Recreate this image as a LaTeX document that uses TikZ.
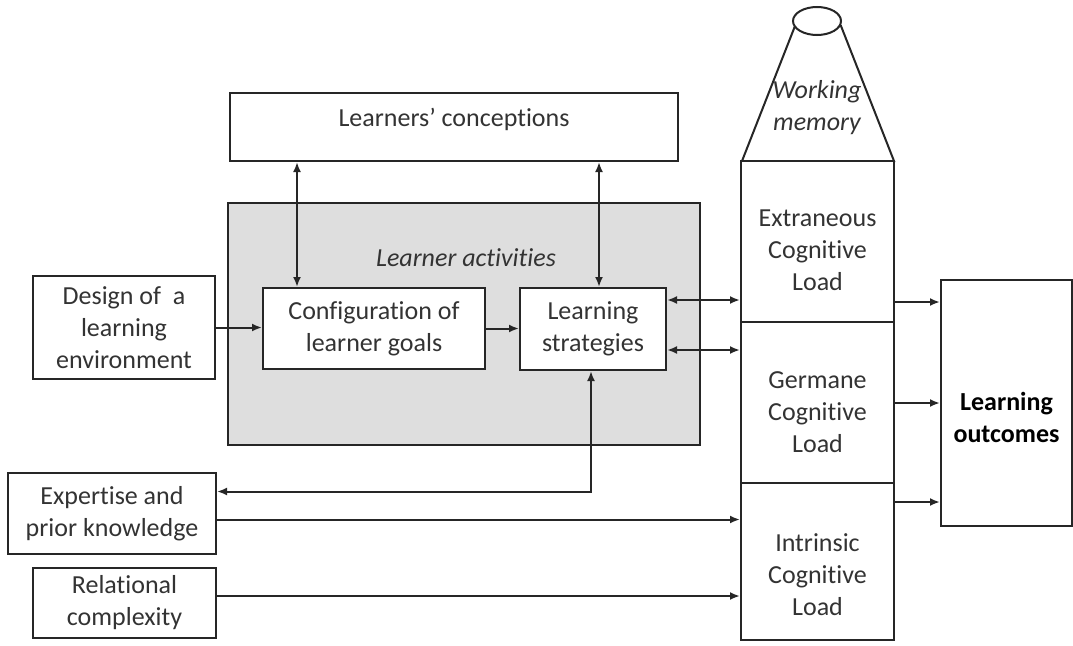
\documentclass[tikz,border=0pt]{standalone}
\usepackage{fontspec}
\setmainfont[Ligatures={NoCommon}]{Carlito}
\usepackage{xcolor}
\usepackage{tikz}
\usetikzlibrary{arrows.meta}
\definecolor{inkgray}{HTML}{333333}
\tikzstyle{every picture}=[x=1pt,y=-1pt,line width=2pt,draw=black!85,>={Latex[length=10pt,width=8pt]}]
\tikzstyle{box}=[rectangle,draw=black!85,fill=white,line width=2pt,text=inkgray,align=center,inner sep=2pt,font=\fontsize{26}{32}\selectfont]
\tikzstyle{area}=[rectangle,draw=black!85,fill=black!13,line width=2pt]
\tikzstyle{load}=[box,minimum width=153pt]
\tikzstyle{boxtext}=[text=inkgray,align=center,font=\fontsize{26}{32}\selectfont]

\begin{document}
\begin{tikzpicture}
        \useasboundingbox (0,0) rectangle (1073,645);

        \node at (464,324) [area,minimum width=472pt,minimum height=242pt] (act) {};
        \node at (466,258) [boxtext,font=\fontsize{26}{32}\selectfont\itshape] (actlabel) {Learner activities};
        \node at (454,127) [box,minimum width=448pt,minimum height=68pt,
          label={[boxtext,anchor=north,yshift=-12pt]north:Learners' conceptions}] (concept) {};
        \node at (374,328.5) [box,minimum width=222pt,minimum height=81pt] (cfg) {Configuration of\\learner goals};
        \node at (593,329) [box,minimum width=146pt,minimum height=82pt] (strat) {Learning\\strategies};
        \node at (124,327.5) [box,minimum width=182pt,minimum height=103pt] (design) {Design of\ \ a\\learning\\environment};
        \node at (112,513.5) [box,minimum width=208pt,minimum height=81pt] (expert) {Expertise and\\prior knowledge};
        \node at (124.5,603) [box,minimum width=183pt,minimum height=70pt] (relat) {Relational\\complexity};

        % working memory funnel
        \draw [fill=white] (742,161) -- (795,26) -- (841,26) -- (894,161) -- cycle;
        \draw [fill=white] (817,21) ellipse [x radius=24, y radius=14];
        \node at (817,108) [boxtext,font=\fontsize{26}{32}\selectfont\itshape] (wm) {Working\\memory};

        \node at (817.5,241.5) [load,minimum height=161pt,
          label={[boxtext,yshift=-9pt]center:Extraneous\\Cognitive\\Load}] (extr) {};
        \node at (817.5,402.5) [load,minimum height=161pt,
          label={[boxtext,yshift=-10pt]center:Germane\\Cognitive\\Load}] (germ) {};
        \node at (817.5,561.5) [load,minimum height=157pt,
          label={[boxtext,yshift=-13pt]center:Intrinsic\\Cognitive\\Load}] (intr) {};
        \node at (1006.5,403) [box,minimum width=131pt,minimum height=246pt,
          label={[boxtext,text=black,font=\fontsize{26}{32}\selectfont\bfseries,yshift=-14pt]center:Learning\\outcomes}] (outcome) {};

        \draw [<->] ([xshift=-77pt]cfg.north) -- ([xshift=-77pt]cfg.north |- concept.south);
        \draw [<->] ([xshift=6pt]strat.north) -- ([xshift=6pt]strat.north |- concept.south);
        \draw [->] (design.east) -- (design.east -| cfg.west);
        \draw [->] (cfg.east) -- (cfg.east -| strat.west);
        \draw [<->] ([yshift=29pt]strat.east) -- ([yshift=29pt]strat.east -| extr.west);
        \draw [<->] ([yshift=-21pt]strat.east) -- ([yshift=-21pt]strat.east -| germ.west);
        \draw [<->] ([xshift=-2pt]strat.south) |- ([yshift=22pt]expert.east);
        \draw [->] ([yshift=-6pt]expert.east) -- ([yshift=-6pt]expert.east -| intr.west);
        \draw [->] ([yshift=7pt]relat.east) -- ([yshift=7pt]relat.east -| intr.west);
        \draw [->] ([yshift=101pt]outcome.west -| extr.east) -- ([yshift=101pt]outcome.west);
        \draw [->] (outcome.west -| germ.east) -- (outcome.west);
        \draw [->] ([yshift=-99pt]outcome.west -| intr.east) -- ([yshift=-99pt]outcome.west);
      \end{tikzpicture}
\end{document}
